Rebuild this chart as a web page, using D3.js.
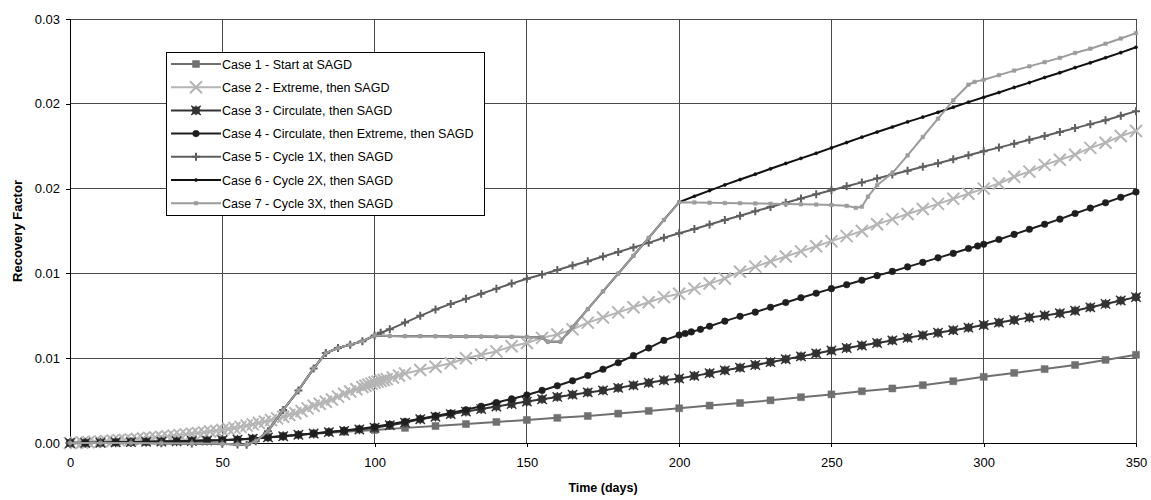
<!doctype html>
<html lang="en">
<head>
<meta charset="utf-8"/>
<title>Recovery Factor vs Time</title>
<script src="https://d3js.org/d3.v7.min.js"></script>
<style>
  body { margin: 0; background: #fff; }
  svg { font-family: Arial, "Liberation Sans", sans-serif; }
</style>
</head>
<body>
<svg id="chart"></svg>
<script>
// ---- data: [day, recovery factor] ----
const case1 = [[0,0],[10,0.00004],[20,0.00008],[30,0.00012],[40,0.00017],[50,0.00022],[60,0.00029],[70,0.00048],[80,0.00066],[90,0.0008],
  [100,0.00092],[110,0.00107],[120,0.0012],[130,0.00134],[140,0.00149],[150,0.00163],[160,0.00178],[170,0.00191],[180,0.00208],[190,0.00227],
  [200,0.00246],[210,0.00265],[220,0.00283],[230,0.00302],[240,0.00324],[250,0.00344],[260,0.00366],[270,0.00386],[280,0.00409],[290,0.00437],
  [300,0.00468],[310,0.00496],[320,0.00523],[330,0.00552],[340,0.00588],[350,0.00624]];

const case2 = [[0,0],[2,0.00001],[4,0.00003],[6,0.00005],[8,0.00008],[10,0.0001],[12,0.00013],[14,0.00016],[16,0.00019],[18,0.00021],
  [20,0.00024],[22,0.00028],[24,0.00032],[26,0.00036],[28,0.00039],[30,0.00043],[32,0.00047],[34,0.00052],[36,0.00056],[38,0.00061],
  [40,0.00065],[42,0.0007],[44,0.00075],[46,0.00081],[48,0.00086],[50,0.00092],[52,0.00099],[54,0.00106],[56,0.00114],[58,0.00123],
  [60,0.00132],[62,0.00141],[64,0.00151],[66,0.00162],[68,0.00174],[70,0.00186],[72,0.00198],[74,0.0021],[76,0.00226],[78,0.00245],
  [80,0.00264],[82,0.00278],[84,0.00292],[86,0.00308],[88,0.00328],[90,0.00348],[92,0.00364],[94,0.0038],[96,0.00396],[97,0.00405],
  [98,0.00412],[99,0.0042],[100,0.00428],[101,0.00434],[102,0.0044],[103,0.00446],[104,0.00452],[106,0.00463],[108,0.00478],[110,0.00492],
  [115,0.00516],[120,0.0054],[125,0.00564],[130,0.006],
  [135,0.00624],[140,0.00648],[145,0.00684],[150,0.00708],[155,0.00744],[160,0.00768],[165,0.00804],[170,0.00852],[175,0.00888],[180,0.00924],
  [185,0.0096],[190,0.00996],[195,0.01032],[200,0.01056],[205,0.01092],[210,0.01128],[215,0.01164],[220,0.01212],[225,0.01248],[230,0.01284],
  [235,0.0132],[240,0.01356],[245,0.01392],[250,0.01428],[255,0.01464],[260,0.015],[265,0.01548],[270,0.01584],[275,0.0162],[280,0.01656],
  [285,0.01692],[290,0.01728],[295,0.01764],[300,0.018],[305,0.01836],[310,0.01884],[315,0.0192],[320,0.01968],[325,0.02004],[330,0.0204],
  [335,0.02088],[340,0.02124],[345,0.02172],[350,0.02208]];

const case3 = [[0,0],[5,0.00001],[10,0.00002],[15,0.00005],[20,0.00006],[25,0.00008],[30,0.0001],[35,0.00012],[40,0.00014],[45,0.00017],
  [50,0.00019],[55,0.00024],[60,0.00031],[65,0.0004],[70,0.00048],[75,0.00058],[80,0.00067],[85,0.00077],[90,0.00086],[95,0.00096],
  [100,0.00108],[105,0.00126],[110,0.00144],[115,0.00168],[120,0.00186],[125,0.00204],[130,0.00222],[135,0.0024],[140,0.00258],[145,0.00276],
  [150,0.00293],[155,0.0031],[160,0.00326],[165,0.00342],[170,0.00358],[175,0.00372],[180,0.0039],[185,0.00408],[190,0.00426],[195,0.00444],
  [200,0.00456],[205,0.00475],[210,0.00494],[215,0.00514],[220,0.00533],[225,0.00552],[230,0.00572],[235,0.00593],[240,0.00613],[245,0.00634],
  [250,0.00654],[255,0.00672],[260,0.0069],[265,0.00708],[270,0.00726],[275,0.00744],[280,0.00762],[285,0.0078],[290,0.00798],[295,0.00816],
  [300,0.00835],[305,0.00852],[310,0.0087],[315,0.00888],[320,0.00902],[325,0.00918],[330,0.00936],[335,0.0096],[340,0.00984],[345,0.01008],
  [350,0.01032]];

const case4 = [[0,0],[5,0.00001],[10,0.00002],[15,0.00005],[20,0.00006],[25,0.00008],[30,0.0001],[35,0.00012],[40,0.00014],[45,0.00017],
  [50,0.00019],[55,0.00024],[60,0.00031],[65,0.0004],[70,0.00048],[75,0.00058],[80,0.00067],[85,0.00077],[90,0.00088],[95,0.001],
  [100,0.00115],[105,0.00132],[110,0.00152],[115,0.00172],[120,0.00192],[125,0.00212],[130,0.00235],[135,0.0026],[140,0.00286],[145,0.00312],
  [150,0.0034],[155,0.00372],[160,0.00405],[165,0.0044],[170,0.00478],[175,0.00522],[180,0.00568],[185,0.00618],[190,0.00672],[195,0.00726],
  [200,0.00764],[202,0.00775],[204,0.00786],[207,0.00804],[210,0.00826],[215,0.00862],[220,0.00896],[225,0.00926],[230,0.0096],[235,0.00994],
  [240,0.01028],[245,0.0106],[250,0.01092],[255,0.0112],[260,0.01152],[265,0.01184],[270,0.01214],[275,0.01246],[280,0.01278],[285,0.0131],
  [290,0.01342],[295,0.01376],[298,0.01394],[300,0.01406],[305,0.0144],[310,0.01476],[315,0.01512],[320,0.01548],[325,0.01584],[330,0.01624],
  [335,0.01662],[340,0.017],[345,0.01738],[350,0.01776]];

// cycle cases share the first cycle up to day 100
const cycle1 = [[0,0],[10,0],[20,0],[30,-0.00002],[40,-0.00004],[50,-0.00006],[55,-0.0001],[58,-0.00012],[61,0.00012],[65,0.00084],
  [70,0.00234],[75,0.00372],[80,0.00528],[84,0.00636],[88,0.00672],[92,0.00696],[96,0.0072],[100,0.0076]];

const case5Rest = [[102,0.0078],[105,0.00804],[110,0.00852],[115,0.009],[120,0.00945],[125,0.00984],[130,0.0102],[135,0.01056],[140,0.01092],
  [145,0.01128],[150,0.01162],[155,0.01192],[160,0.01224],[165,0.01256],[170,0.01286],[175,0.0132],[180,0.01352],[185,0.01384],[190,0.01416],
  [195,0.01452],[200,0.01484],[205,0.01514],[210,0.01546],[215,0.01578],[220,0.01608],[225,0.0164],[230,0.0167],[235,0.017],[240,0.0173],
  [245,0.0176],[250,0.01788],[255,0.01816],[260,0.01844],[265,0.01872],[270,0.019],[275,0.01926],[280,0.01954],[285,0.0198],[290,0.02008],
  [295,0.02036],[300,0.02064],[305,0.0209],[310,0.02118],[315,0.02146],[320,0.02172],[325,0.022],[330,0.02228],[335,0.02256],[340,0.02284],
  [345,0.02316],[350,0.02348]];

// second cycle, shared by cases 6 and 7
const cycle2 = [[105,0.00757],[110,0.00756],[115,0.00756],[120,0.00755],[125,0.00754],[130,0.00754],[135,0.00753],[140,0.00752],[145,0.00751],
  [150,0.0075],[155,0.00746],[157,0.00717],[161,0.00717],[165,0.00821],[170,0.00947],[175,0.01073],[180,0.01199],[185,0.01325],[190,0.01451],
  [195,0.01578],[200,0.01704]];

const case6Rest = [[205,0.01746],[210,0.01786],[215,0.01826],[220,0.01864],[225,0.01902],[230,0.0194],[235,0.01978],[240,0.02014],[245,0.0205],
  [250,0.02088],[255,0.02126],[260,0.02164],[265,0.022],[270,0.02236],[275,0.02272],[280,0.02306],[285,0.0234],[290,0.02376],[295,0.02412],
  [300,0.02446],[305,0.0248],[310,0.02516],[315,0.0255],[320,0.02586],[325,0.0262],[330,0.02656],[335,0.0269],[340,0.02726],[345,0.02762],
  [350,0.028]];

const case7Rest = [[205,0.01702],[210,0.017],[215,0.01698],[220,0.01697],[225,0.01695],[230,0.01693],[235,0.01691],[240,0.01689],[245,0.01687],
  [250,0.01684],[255,0.01678],[258,0.01664],[260,0.01672],[262,0.01743],[265,0.01824],[270,0.0191],[275,0.02035],[280,0.02165],[285,0.02295],
  [290,0.02425],[295,0.02535],[297,0.02555],[300,0.0257],[305,0.02603],[310,0.02635],[315,0.02665],[320,0.02695],[325,0.02725],[330,0.0276],
  [335,0.0279],[340,0.02825],[345,0.02862],[350,0.029]];

const seriesNames = [
  "Case 1 - Start at SAGD",
  "Case 2 - Extreme, then SAGD",
  "Case 3 - Circulate, then SAGD",
  "Case 4 - Circulate, then Extreme, then SAGD",
  "Case 5 - Cycle 1X, then SAGD",
  "Case 6 - Cycle 2X, then SAGD",
  "Case 7 - Cycle 3X, then SAGD"
];
const xTicks = [0, 50, 100, 150, 200, 250, 300, 350];
const yTicks = [0, 0.006, 0.012, 0.018, 0.024, 0.03];

// ---- styles ----
const styles = [
  {color: "#707070", marker: "square", r: 3.5},
  {color: "#b5b5b5", marker: "x", r: 6},
  {color: "#333333", marker: "star", r: 3.5},
  {color: "#1e1e1e", marker: "circle", r: 3.3},
  {color: "#5f5f5f", marker: "plus", r: 4},
  {color: "#111111", marker: "dot", r: 1.6},
  {color: "#9c9c9c", marker: "smallsq", r: 1.8}
];

const series = [
  case1, case2, case3, case4,
  cycle1.concat(case5Rest),
  cycle1.concat(cycle2, case6Rest),
  cycle1.concat(cycle2, case7Rest)
];

const width = 1151, height = 500;
const plotLeft = 70, plotRight = 1136, plotTop = 19, plotBottom = 443;

const svg = d3.select("#chart").attr("width", width).attr("height", height);
svg.append("rect").attr("width", width).attr("height", height).attr("fill", "#fff");

const x = d3.scaleLinear().domain([0, 350]).range([plotLeft, plotRight]);
const y = d3.scaleLinear().domain([0, 0.03]).range([plotBottom, plotTop]);

// grid
const grid = svg.append("g").attr("shape-rendering", "crispEdges");
grid.selectAll("line.h").data(yTicks).enter().append("line")
  .attr("x1", plotLeft).attr("x2", plotRight)
  .attr("y1", d => y(d)).attr("y2", d => y(d))
  .attr("stroke", "#4a4a4a").attr("stroke-width", 1);
grid.selectAll("line.v").data(xTicks).enter().append("line")
  .attr("y1", plotTop).attr("y2", plotBottom)
  .attr("x1", d => x(d)).attr("x2", d => x(d))
  .attr("stroke", "#4a4a4a").attr("stroke-width", 1);

// axes
const xAxis = svg.append("g").attr("transform", `translate(0,${plotBottom})`)
  .call(d3.axisBottom(x).tickValues(xTicks).tickSize(4).tickPadding(11).tickFormat(d3.format("d")));
const yAxis = svg.append("g").attr("transform", `translate(${plotLeft},0)`)
  .call(d3.axisLeft(y).tickValues(yTicks).tickSize(4).tickPadding(6).tickFormat(d3.format(".2f")));
[xAxis, yAxis].forEach(a => {
  a.selectAll("path").attr("stroke", "#000").attr("shape-rendering", "crispEdges");
  a.selectAll("line").attr("stroke", "#000").attr("shape-rendering", "crispEdges");
  a.selectAll("text").attr("fill", "#000").style("font-size", "13px")
    .style("font-family", "Arial, 'Liberation Sans', sans-serif");
});

svg.append("text").attr("x", (plotLeft + plotRight) / 2).attr("y", 492)
  .attr("text-anchor", "middle").style("font-size", "12.5px").style("font-weight", "bold")
  .text("Time (days)");
svg.append("text").attr("transform", `translate(22,${(plotTop + plotBottom) / 2}) rotate(-90)`)
  .attr("text-anchor", "middle").style("font-size", "13px").style("font-weight", "bold")
  .text("Recovery Factor");

// marker shapes
function markerPath(type, r) {
  const p = d3.path();
  if (type === "square" || type === "smallsq" || type === "star") {
    p.rect(-r, -r, 2 * r, 2 * r);
  } else if (type === "circle" || type === "dot") {
    p.moveTo(r, 0);
    p.arc(0, 0, r, 0, 2 * Math.PI);
  } else if (type === "x") {
    p.moveTo(-r, -r); p.lineTo(r, r); p.moveTo(-r, r); p.lineTo(r, -r);
  } else if (type === "plus") {
    p.moveTo(-r, 0); p.lineTo(r, 0); p.moveTo(0, -r); p.lineTo(0, r);
  }
  return p.toString();
}

function drawMarker(g, st) {
  const stroked = st.marker === "x" || st.marker === "plus";
  g.append("path").attr("d", markerPath(st.marker, st.r))
    .attr("fill", stroked ? "none" : st.color)
    .attr("stroke", st.color)
    .attr("stroke-width", stroked ? 2 : 0.5);
  if (st.marker === "star") {
    g.append("path").attr("d", markerPath("x", st.r + 1.2))
      .attr("fill", "none").attr("stroke", st.color).attr("stroke-width", 1.4);
    g.append("path").attr("d", markerPath("plus", st.r + 1.4))
      .attr("fill", "none").attr("stroke", st.color).attr("stroke-width", 1.2);
  }
}

const line = d3.line().x(d => x(d[0])).y(d => y(d[1]));
const plot = svg.append("g");

series.forEach((data, i) => {
  const st = styles[i];
  const g = plot.append("g");
  g.append("path").datum(data).attr("d", line)
    .attr("fill", "none").attr("stroke", st.color)
    .attr("stroke-width", 2).attr("stroke-linejoin", "round");
  g.selectAll("g.m").data(data).enter().append("g")
    .attr("transform", d => `translate(${x(d[0])},${y(d[1])})`)
    .each(function () { drawMarker(d3.select(this), st); });
});

// legend
const legend = svg.append("g");
legend.append("rect").attr("x", 166.5).attr("y", 52.5).attr("width", 318).attr("height", 163)
  .attr("fill", "#fff").attr("stroke", "#000").attr("stroke-width", 1);
seriesNames.forEach((name, i) => {
  const st = styles[i];
  const yy = 64 + i * 23.2;
  const row = legend.append("g");
  row.append("line").attr("x1", 171).attr("x2", 221).attr("y1", yy).attr("y2", yy)
    .attr("stroke", st.color).attr("stroke-width", 2);
  drawMarker(row.append("g").attr("transform", `translate(196,${yy})`), st);
  row.append("text").attr("x", 222).attr("y", yy + 4.5)
    .style("font-size", "12.5px").attr("fill", "#000").text(name);
});
</script>
</body>
</html>
